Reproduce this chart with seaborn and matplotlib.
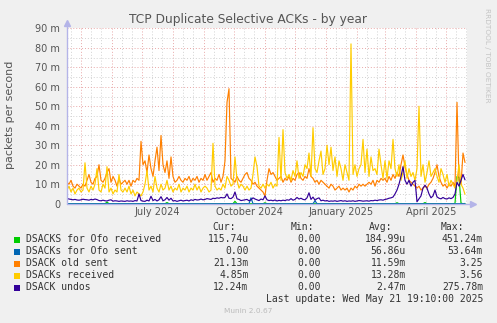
import pandas as pd
import matplotlib
matplotlib.use("Agg")
import matplotlib.pyplot as plt
import matplotlib.dates as mdates
import matplotlib.transforms as mtransforms
from matplotlib.patches import Rectangle
import seaborn as sns

# ---------------------------------------------------------------- data
# Daily-average rates sampled every second day, in milli-packets per second.
start = pd.Timestamp("2024-04-16 19:10")
end = pd.Timestamp("2025-05-21 19:10")
dates = pd.date_range(start, periods=200, freq="2D")

ofo_received = [
    0, 0, 0, 0, 0, 0, 0, 0, 0, 0, 0, 0, 0, 0, 0, 0, 0, 0, 0, 0,
    0.8, 0, 0, 0, 0, 0, 0, 0, 0, 0, 0, 0, 0, 0, 0, 0, 0, 0, 0, 0,
    0, 0, 0, 0, 0, 0, 0, 0, 0, 0, 0.6, 0, 0, 0, 0, 0, 0, 0, 0, 0,
    0, 0, 0, 0, 0, 0, 0, 0, 0, 0, 0, 0, 0, 0, 0, 0, 0, 0, 0, 0,
    0, 0, 0, 0, 1.2, 0, 0, 0, 0, 0, 0, 0, 0, 0, 0, 0, 0, 0, 0, 0.5,
    0, 0, 0, 0, 0, 0, 0, 0, 0, 0, 0, 0, 0, 0, 0, 0, 0, 0, 0, 0,
    0, 0, 0, 0, 0, 0, 0, 0, 0, 0, 0, 0, 0, 0, 0, 0, 0, 0, 0, 0,
    0, 0, 0, 0, 0, 0, 0, 0, 0, 0, 0, 0, 0, 0, 0, 0, 0, 0, 0, 0,
    0, 0, 0, 0, 0, 0.5, 0, 0, 0, 0, 0, 0, 0, 0, 0, 0, 0, 0, 0, 0.6,
    0, 0, 0, 0, 0, 0, 0, 0, 0, 0, 0, 0, 0, 0, 0.2, 14, 13.5, 0.3, 0, 0.12,
]
ofo_sent = [
    0, 0, 0, 0, 0, 0, 0, 0, 0, 0, 0, 0, 0, 0, 0, 0, 0, 0, 0, 0,
    0, 0, 0, 0, 0, 0, 0, 0, 0, 0, 0, 0, 0, 0, 0, 0, 0, 0, 0, 0,
    0, 0, 0, 0, 0, 0, 0, 0, 0, 0, 0, 0, 0, 0, 0, 0, 0, 0, 0, 0,
    0, 0, 0, 0, 0, 0, 0, 0, 0, 0, 0, 0, 0, 0, 0, 0, 0, 0, 0, 0,
    0, 0, 0, 0, 0, 0, 0, 0, 0, 0, 0, 0, 3.0, 0, 0, 0, 0, 0, 0, 0,
    0, 0, 0, 0, 0, 0, 0, 0, 0, 0, 0, 0, 0, 0, 0, 0, 0, 0, 0, 0,
    0, 0, 0, 0, 1.5, 0, 0, 0, 0, 0, 0, 0, 0, 0, 0, 0, 0, 0, 0, 0,
    0, 0, 0, 0, 0, 0, 0, 0, 0, 0, 0, 0, 0, 0, 0, 0, 0, 0, 0, 0,
    0, 0, 0, 0, 0, 0, 0, 0, 0, 0, 0, 0, 0, 0, 0, 0, 0, 0, 0, 0,
    0, 0, 0, 0, 0, 0, 0, 0, 0, 0, 0, 0, 0, 0, 0, 0, 0, 0, 0, 0,
]
old_sent = [
    11, 10, 12, 9, 8, 10, 9, 8, 10, 9,
    12, 15, 11, 10, 13, 14, 20, 12, 11, 13,
    16, 18, 11, 14, 12, 9, 13, 10, 11, 12,
    10, 12, 9, 12, 11, 13, 12, 32, 20, 22,
    16, 25, 18, 14, 22, 29, 17, 35, 20, 16,
    22, 13, 24, 14, 11, 12, 14, 12, 11, 13,
    12, 14, 11, 13, 12, 14, 11, 13, 12, 15,
    12, 14, 16, 11, 13, 12, 15, 11, 14, 22,
    52, 59, 13, 12, 11, 14, 12, 11, 13, 15,
    16, 13, 12, 10, 11, 9, 8, 7, 6, 4,
    12, 18, 15, 16, 14, 12, 13, 14, 11, 13,
    12, 14, 11, 13, 12, 15, 16, 13, 12, 14,
    13, 18, 14, 13, 11, 12, 10, 12, 11, 10,
    9, 8, 10, 9, 7, 8, 9, 7, 8, 7,
    8, 6, 8, 7, 9, 8, 10, 9, 10, 9,
    10, 11, 10, 12, 9, 12, 11, 13, 12, 13,
    11, 14, 12, 15, 13, 16, 14, 20, 25, 19,
    15, 12, 11, 10, 9, 8, 9, 7, 8, 9,
    8, 10, 11, 13, 16, 20, 14, 11, 9, 10,
    8, 10, 9, 11, 9, 52, 12, 10, 26, 21.13,
]
received = [
    7, 9, 6, 8, 5, 7, 8, 6, 7, 21,
    8, 6, 9, 7, 10, 18, 7, 6, 10, 8,
    19, 6, 8, 5, 7, 6, 15, 7, 6, 8,
    6, 9, 5, 7, 4, 6, 5, 4, 6, 10,
    17, 7, 9, 6, 14, 8, 6, 10, 7, 8,
    12, 7, 9, 6, 8, 7, 10, 6, 8, 7,
    9, 6, 8, 7, 10, 7, 9, 6, 8, 9,
    8, 6, 7, 31, 9, 7, 8, 7, 10, 8,
    14, 12, 9, 10, 24, 12, 8, 10, 9, 7,
    9, 7, 8, 15, 24, 19, 9, 8, 10, 8,
    10, 9, 11, 8, 10, 9, 34, 12, 38, 16,
    13, 15, 12, 17, 14, 22, 13, 16, 14, 20,
    18, 26, 14, 39, 18, 16, 22, 27, 15, 18,
    30, 20, 29, 17, 24, 14, 22, 18, 12, 20,
    16, 12, 82, 15, 20, 14, 18, 20, 33, 16,
    28, 14, 24, 17, 18, 15, 28, 20, 13, 22,
    13, 22, 18, 33, 18, 14, 20, 12, 16, 22,
    13, 18, 14, 16, 12, 18, 50, 14, 20, 11,
    16, 22, 14, 16, 18, 14, 11, 18, 15, 11,
    15, 9, 12, 10, 8, 12, 20, 10, 8, 4.85,
]
undos = [
    2.7, 2.4, 2.2, 2.0, 2.2, 1.9, 1.8, 2.0, 2.3, 2.1,
    2.0, 1.8, 2.2, 2.0, 2.4, 2.1, 1.6, 1.5, 1.8, 1.5,
    1.4, 1.8, 2.0, 1.3, 1.5, 1.4, 1.2, 1.4, 1.3, 1.2,
    1.5, 1.3, 1.4, 1.2, 1.6, 1.4, 5.0, 1.6, 1.3, 1.2,
    1.8, 1.4, 3.8, 1.6, 2.2, 1.4, 2.0, 3.6, 1.5, 2.0,
    3.2, 1.8, 2.8, 1.4, 1.6, 1.2, 1.5, 1.8, 1.4, 1.6,
    1.8, 1.4, 2.0, 1.7, 2.2, 1.9, 2.0, 2.4, 2.0, 2.2,
    2.6, 2.4, 2.2, 2.8, 2.6, 3.0, 2.8, 3.2, 3.0, 3.2,
    5.0, 2.8, 2.6, 3.4, 6.0, 2.5, 2.2, 1.6, 1.8, 2.0,
    2.2, 1.5, 2.0, 3.0, 2.4, 2.0, 1.6, 2.4, 2.0, 4.0,
    2.0, 1.6, 1.8, 1.5, 1.9, 1.4, 1.7, 1.5, 1.8, 1.6,
    2.0, 1.8, 2.6, 1.8, 2.2, 3.2, 2.4, 2.8, 2.2, 2.0,
    3.0, 5.6, 2.2, 3.4, 1.8, 2.6, 3.0, 1.5, 1.8, 1.4,
    1.6, 1.2, 1.4, 1.3, 1.5, 1.2, 1.4, 1.6, 1.3, 1.5,
    1.2, 1.4, 1.3, 1.5, 1.2, 1.4, 1.6, 1.5, 1.3, 1.4,
    1.5, 1.3, 1.6, 1.5, 1.8, 1.6, 1.9, 2.0, 1.8, 2.2,
    2.4, 2.8, 3.0, 3.4, 5.0, 7.0, 10.0, 14.0, 19.0, 12.0,
    10.0, 12.0, 9.0, 11.0, 12.0, 1.0, 2.5, 4.0, 8.0, 9.5,
    8.0, 5.0, 3.0, 4.0, 7.0, 3.5, 2.8, 2.5, 3.2, 2.6,
    2.4, 3.0, 2.6, 3.2, 5.0, 11.0, 9.0, 12.0, 15.0, 12.24,
]

labels = ["DSACKS for Ofo received", "DSACKs for Ofo sent", "DSACK old sent",
          "DSACKs received", "DSACK undos"]
colors = ["#00CC00", "#0066B3", "#FF8000", "#FFCC00", "#330099"]
cur_vals = ["115.74u", "0.00", "21.13m", "4.85m", "12.24m"]
min_vals = ["0.00", "0.00", "0.00", "0.00", "0.00"]
avg_vals = ["184.99u", "56.86u", "11.59m", "13.28m", "2.47m"]
max_vals = ["451.24m", "53.64m", "3.25", "3.56", "275.78m"]

y_ticks = [0, 10, 20, 30, 40, 50, 60, 70, 80, 90]
month_labels = ["July 2024", "October 2024", "January 2025", "April 2025"]
month_label_dates = ["2024-07-16", "2024-10-16", "2025-01-16", "2025-04-16"]

# ---------------------------------------------------------------- figure
W, H = 497, 323
sns.set_style("white")
plt.rcParams["font.family"] = ["DejaVu Sans"]

fig = plt.figure(figsize=(W / 100, H / 100), dpi=100, facecolor="#F0F0F0")


def fx(px):
    return px / W


def fy(py):
    return 1 - py / H


left, right, top, bottom = 67, 467, 28.3, 203.7
ax = fig.add_axes([fx(left), fy(bottom), fx(right - left), (bottom - top) / H])
ax.set_facecolor("white")

frame = pd.DataFrame({"date": dates})
series = [ofo_received, ofo_sent, old_sent, received, undos]
for lab, col, vals in zip(labels, colors, series):
    frame[lab] = vals
    sns.lineplot(data=frame, x="date", y=lab, color=col, linewidth=0.85,
                 ax=ax, legend=False, zorder=3)

ax.set_xlim(start, end)
ax.set_ylim(0, 90)
ax.set_xlabel("")
ax.set_ylabel("")

# grid: monthly major lines, minor lines in between; 10 m / 5 m horizontally
ax.xaxis.set_major_locator(mdates.MonthLocator())
ax.xaxis.set_minor_locator(mdates.DayLocator(bymonthday=[11, 21]))
ax.set_yticks(y_ticks)
ax.set_yticks([5, 15, 25, 35, 45, 55, 65, 75, 85], minor=True)
ax.set_yticklabels([("%d m" % v) if v else "0" for v in y_ticks])
ax.set_xticklabels([])
ax.grid(which="minor", color="#D2D2D2", linestyle=(0, (1, 2)), linewidth=0.7, zorder=1)
ax.grid(which="major", color="#E8A8A8", linestyle=(0, (1, 2)), linewidth=0.7, zorder=1)
ax.set_axisbelow(True)
ax.tick_params(axis="both", which="both", length=0)
ax.tick_params(axis="y", labelsize=7, labelcolor="#555555", pad=5)

for s in ("top", "right", "left", "bottom"):
    ax.spines[s].set_visible(False)

axis_col = "#B4B4E8"
ax.plot([0, 0], [0, 1.02], transform=ax.transAxes, color=axis_col, lw=1,
        clip_on=False, zorder=6)
ax.plot([0, 1.01], [0, 0], transform=ax.transAxes, color=axis_col, lw=1,
        clip_on=False, zorder=6)
ax.plot([0], [1.03], marker="^", markersize=4.5, color=axis_col,
        transform=ax.transAxes, clip_on=False, zorder=6)
ax.plot([1.015], [0], marker=">", markersize=4.5, color=axis_col,
        transform=ax.transAxes, clip_on=False, zorder=6)

# month labels centred on the middle of the month
trans = mtransforms.blended_transform_factory(ax.transData, fig.transFigure)
for lab, d in zip(month_labels, month_label_dates):
    ax.text(mdates.date2num(pd.Timestamp(d)), fy(212), lab, transform=trans,
            ha="center", va="center", fontsize=7, color="#555555")

# titles
fig.text(fx(248), fy(19), "TCP Duplicate Selective ACKs - by year", ha="center",
         va="center", fontsize=8.8, color="#555555")
fig.text(fx(10), fy(115), "packets per second", rotation=90, ha="center",
         va="center", fontsize=8, color="#555555")
fig.text(fx(487), fy(55), "RRDTOOL / TOBI OETIKER", rotation=270, ha="center",
         va="center", fontsize=5.3, color="#C4C4C4")

# legend table
mono = "DejaVu Sans Mono"
txt_col = "#333333"
row_y = [239.5, 251.5, 263.5, 275.5, 287.5]
for head, xr in zip(["Cur:", "Min:", "Avg:", "Max:"], [235.5, 314.5, 392, 464.5]):
    fig.text(fx(xr), fy(227.5), head, ha="right", va="center", family=mono,
             fontsize=7, color=txt_col)
for i, (lab, col) in enumerate(zip(labels, colors)):
    y = row_y[i]
    fig.patches.append(Rectangle((fx(14), fy(y + 3)), fx(6), 6 / H,
                                 transform=fig.transFigure, facecolor=col,
                                 edgecolor="none"))
    fig.text(fx(26), fy(y), lab, ha="left", va="center", family=mono,
             fontsize=7, color=txt_col)
    for vals, xr in zip([cur_vals, min_vals, avg_vals, max_vals],
                        [248.5, 321, 406, 483]):
        fig.text(fx(xr), fy(y), vals[i], ha="right", va="center", family=mono,
                 fontsize=7, color=txt_col)
fig.text(fx(483), fy(299.5), "Last update: Wed May 21 19:10:00 2025", ha="right",
         va="center", family=mono, fontsize=7, color=txt_col)
fig.text(fx(248), fy(311), "Munin 2.0.67", ha="center", va="center",
         fontsize=5.3, color="#BBBBBB")

fig.savefig("out.png", dpi=100, facecolor=fig.get_facecolor())
